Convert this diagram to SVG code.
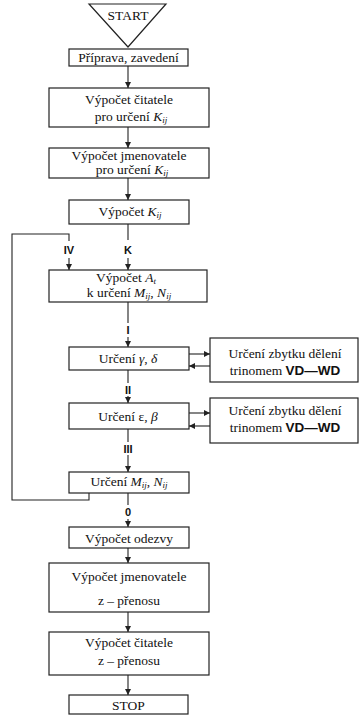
<svg xmlns="http://www.w3.org/2000/svg" width="359" height="715" viewBox="0 0 359 715">
<style>
.box{fill:#fff;stroke:#222;stroke-width:1.2}
.t{font-family:"Liberation Serif","DejaVu Serif","Times New Roman",serif;font-size:13.5px;fill:#111;text-anchor:middle}
.i{font-style:italic}
.s{font-size:9px;font-style:italic}
.lab{font-family:"Liberation Sans",Arial,sans-serif;font-weight:bold;font-size:11px;fill:#111;text-anchor:middle}
.b{font-family:"Liberation Sans",Arial,sans-serif;font-weight:bold}
.c{fill:none;stroke:#222;stroke-width:1.1}
</style>
<defs>
<marker id="ah" viewBox="0 0 10 10" refX="10" refY="5" markerWidth="6" markerHeight="6" orient="auto" markerUnits="userSpaceOnUse">
<path d="M0,0 L10,5 L0,10 z" fill="#222"/>
</marker>
</defs>
<rect width="359" height="715" fill="#fff"/>
<g id="connectors">
<path class="c" d="M128,66 V88" marker-end="url(#ah)"/>
<path class="c" d="M128,127 V148" marker-end="url(#ah)"/>
<path class="c" d="M128,178 V200" marker-end="url(#ah)"/>
<path class="c" d="M128,224 V240 M128,258 V270" marker-end="url(#ah)"/>
<path class="c" d="M89,493 V500 H12 V234 H69 V241 M69,258 V270" marker-end="url(#ah)"/>
<path class="c" d="M128,302 V323 M128,337 V347" marker-end="url(#ah)"/>
<path class="c" d="M128,370 V383 M128,396 V403" marker-end="url(#ah)"/>
<path class="c" d="M128,429 V442 M128,455 V472" marker-end="url(#ah)"/>
<path class="c" d="M128,493 V505 M128,519 V527" marker-end="url(#ah)"/>
<path class="c" d="M128,548 V563" marker-end="url(#ah)"/>
<path class="c" d="M128,612 V632" marker-end="url(#ah)"/>
<path class="c" d="M128,675 V695" marker-end="url(#ah)"/>
<path class="c" d="M189,354 H210" marker-end="url(#ah)"/>
<path class="c" d="M210,366 H189" marker-end="url(#ah)"/>
<path class="c" d="M189,413 H210" marker-end="url(#ah)"/>
<path class="c" d="M210,426 H189" marker-end="url(#ah)"/>
<text class="lab" x="69" y="254">IV</text>
<text class="lab" x="128" y="254">K</text>
<text class="lab" x="128" y="334">I</text>
<text class="lab" x="128" y="394">II</text>
<text class="lab" x="128" y="453">III</text>
<text class="lab" x="128" y="516">0</text>
</g>
<g id="start">
<path class="box" d="M89,4 H166 L128,47 z"/>
<text class="t" x="128" y="20">START</text>
</g>
<g id="priprava">
<rect class="box" x="69" y="49" width="119" height="17"/>
<text class="t" x="128.5" y="62">Příprava, zavedení</text>
</g>
<g id="citatel">
<rect class="box" x="49" y="88" width="160" height="39"/>
<text class="t" x="129" y="104">Výpočet čitatele</text>
<text class="t" x="131" y="121">pro určení  <tspan class="i">K</tspan><tspan class="s" dy="2">ij</tspan></text>
</g>
<g id="jmenovatel">
<rect class="box" x="49" y="148" width="160" height="30"/>
<text class="t" x="129" y="160">Výpočet jmenovatele</text>
<text class="t" x="132" y="174">pro určení  <tspan class="i">K</tspan><tspan class="s" dy="2">ij</tspan></text>
</g>
<g id="kij">
<rect class="box" x="69" y="200" width="120" height="24"/>
<text class="t" x="130" y="216">Výpočet <tspan class="i">K</tspan><tspan class="s" dy="2">ij</tspan></text>
</g>
<g id="at">
<rect class="box" x="49" y="270" width="158" height="32"/>
<text class="t" x="126" y="282">Výpočet <tspan class="i">A</tspan><tspan class="s" dy="2">t</tspan></text>
<text class="t" x="129" y="297">k určení <tspan class="i">M</tspan><tspan class="s" dy="2">ij</tspan><tspan dy="-2">, </tspan><tspan class="i">N</tspan><tspan class="s" dy="2">ij</tspan></text>
</g>
<g id="gamma">
<rect class="box" x="69" y="347" width="120" height="23"/>
<text class="t" x="128" y="363">Určení <tspan class="i">γ</tspan>, <tspan class="i">δ</tspan></text>
</g>
<g id="zbytek1">
<rect class="box" x="210" y="338" width="148" height="44"/>
<text class="t" x="285" y="358">Určení zbytku dělení</text>
<text class="t" x="285" y="375">trinomem <tspan class="b">VD—WD</tspan></text>
</g>
<g id="epsilon">
<rect class="box" x="69" y="403" width="120" height="26"/>
<text class="t" x="128" y="421">Určení ε, <tspan class="i">β</tspan></text>
</g>
<g id="zbytek2">
<rect class="box" x="210" y="398" width="148" height="45"/>
<text class="t" x="285" y="415">Určení zbytku dělení</text>
<text class="t" x="285" y="432">trinomem <tspan class="b">VD—WD</tspan></text>
</g>
<g id="mij">
<rect class="box" x="69" y="472" width="120" height="21"/>
<text class="t" x="129" y="486">Určení <tspan class="i">M</tspan><tspan class="s" dy="2">ij</tspan><tspan dy="-2">, </tspan><tspan class="i">N</tspan><tspan class="s" dy="2">ij</tspan></text>
</g>
<g id="odezva">
<rect class="box" x="69" y="527" width="120" height="21"/>
<text class="t" x="129" y="543">Výpočet odezvy</text>
</g>
<g id="jmenovatel_z">
<rect class="box" x="49" y="563" width="160" height="49"/>
<text class="t" x="129" y="581">Výpočet jmenovatele</text>
<text class="t" x="129" y="605">z – přenosu</text>
</g>
<g id="citatel_z">
<rect class="box" x="49" y="632" width="160" height="43"/>
<text class="t" x="129" y="647">Výpočet čitatele</text>
<text class="t" x="129" y="665">z – přenosu</text>
</g>
<g id="stop">
<rect class="box" x="69" y="695" width="119" height="19"/>
<text class="t" x="128.5" y="710">STOP</text>
</g>
</svg>
